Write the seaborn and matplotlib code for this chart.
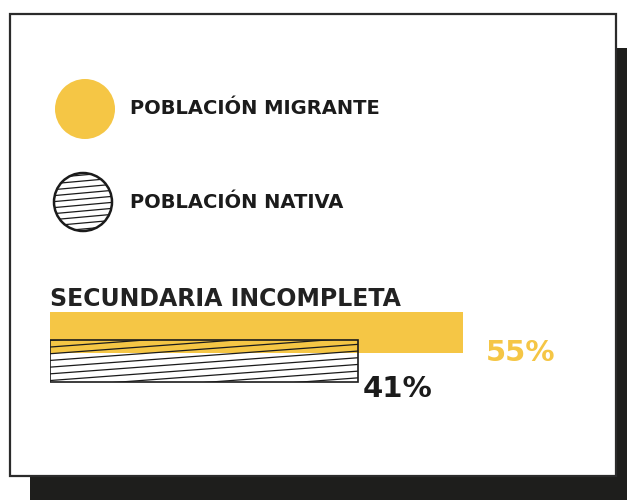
import numpy as np
import pandas as pd
import matplotlib
matplotlib.use("Agg")
import matplotlib.pyplot as plt
from matplotlib.patches import Rectangle, Circle
import seaborn as sns

# ---- data ----
category = "SECUNDARIA INCOMPLETA"
groups = ["POBLACIÓN MIGRANTE", "POBLACIÓN NATIVA"]
values = [55, 41]
labels = ["55%", "41%"]

YELLOW = "#F5C645"
DARK = "#1b1b1b"
SHADOW = "#1e1e1c"

sns.set_theme(style="white")
plt.rcParams["font.family"] = ["DejaVu Sans"]

fig = plt.figure(figsize=(6.27, 5), dpi=100)

# background axes in pixel coordinates (top-left origin)
bg = fig.add_axes([0, 0, 1, 1], zorder=0)
bg.set_xlim(0, 627)
bg.set_ylim(500, 0)
bg.axis("off")

bg.add_patch(Rectangle((30, 48), 597, 452, facecolor=SHADOW, edgecolor="none"))
bg.add_patch(Rectangle((10, 14), 606, 462, facecolor="white", edgecolor="#2b2b2b", lw=1.6))

# legend markers
bg.add_patch(Circle((85, 109), 30, facecolor=YELLOW, edgecolor="none"))
circ = Circle((83, 202), 29, facecolor="white", edgecolor=DARK, lw=1.8, zorder=3)
bg.add_patch(circ)
slope_px = 0.09
sp = 6.0
for c in np.arange(202 - 29 - 10, 202 + 29 + 10, sp):
    xs = np.array([83 - 35, 83 + 35])
    ys = c - slope_px * (xs - 83)
    ln, = bg.plot(xs, ys, color=DARK, lw=0.9, zorder=4)
    ln.set_clip_path(circ)

bg.text(130, 109, groups[0], fontsize=14, fontweight="bold", color=DARK, va="center", ha="left")
bg.text(130, 202, groups[1], fontsize=14, fontweight="bold", color=DARK, va="center", ha="left")
bg.text(50, 306, category, fontsize=17, fontweight="bold", color="#222222", va="baseline", ha="left")

# bar axes
ax_left_px, ax_top_px, ax_w_px, ax_h_px = 50, 300, 577, 95
ax = fig.add_axes([ax_left_px / 627, (500 - ax_top_px - ax_h_px) / 500, ax_w_px / 627, ax_h_px / 500], zorder=1)
ax.patch.set_alpha(0)

df = pd.DataFrame({"grupo": groups, "valor": values})
sns.barplot(data=df, x="valor", y="grupo", hue="grupo", palette=[YELLOW, "white"],
            width=1.45, orient="h", ax=ax, legend=False, saturation=1)

sx = 7.5    # px per percentage point
sy = 28.5   # px per category unit
ax.set_xlim(0, ax_w_px / sx)
top = -32.5 / sy
ax.set_ylim(top + ax_h_px / sy, top)
ax.axis("off")

bars = ax.patches
bars[0].set_edgecolor("none")
nb = bars[1]
nb.set_facecolor("none")
nb.set_edgecolor(DARK)
nb.set_linewidth(1.2)
nb.set_zorder(4)

# custom low-angle hatch, clipped to the native-population bar
x0, y0 = nb.get_x(), nb.get_y()
w, h = nb.get_width(), nb.get_height()
k = 0.074 * sx / sy          # rise (y units) per x unit
dy = 6.7 / sy
for c in np.arange(y0, y0 + h + k * w + dy, dy):
    xs = np.array([x0, x0 + w])
    ys = c - k * (xs - x0)
    ln, = ax.plot(xs, ys, color=DARK, lw=0.9, zorder=3)
    ln.set_clip_path(nb)

# value labels
ax.annotate(labels[0], (values[0], 0), xytext=(16.5, -14.5), textcoords="offset points",
            fontsize=21, fontweight="bold", color=YELLOW, va="center", ha="left")
ax.annotate(labels[1], (values[1], 1), xytext=(3.5, -20), textcoords="offset points",
            fontsize=21, fontweight="bold", color=DARK, va="center", ha="left", zorder=5)

fig.savefig("out.png", dpi=100)
